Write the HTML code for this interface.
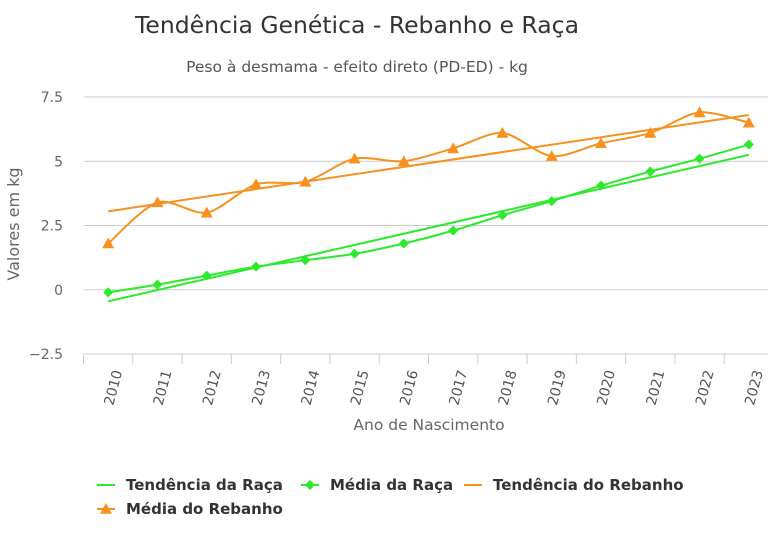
<!DOCTYPE html>
<html><head><meta charset="utf-8">
<style>
body{margin:0;background:#fff;font-family:"DejaVu Sans","Liberation Sans",sans-serif;}
svg text{font-family:"DejaVu Sans","Liberation Sans",sans-serif;}
</style></head>
<body>
<svg id="chart" width="768" height="539" viewBox="0 0 768 539" xmlns="http://www.w3.org/2000/svg">
<text x="357" y="33" text-anchor="middle" font-size="23.5" fill="#333">Tendência Genética - Rebanho e Raça</text>
<text x="357" y="72" text-anchor="middle" font-size="15.5" fill="#555">Peso à desmama - efeito direto (PD-ED) - kg</text>
<text transform="translate(19,224) rotate(-90)" text-anchor="middle" font-size="16" fill="#666">Valores em kg</text>
<text x="429" y="430" text-anchor="middle" font-size="15.5" fill="#666">Ano de Nascimento</text>
<g id="grid"></g><g id="axes"></g><g id="series"></g>
<g id="legend"></g>
</svg>
<script>
const categories=["2010","2011","2012","2013","2014","2015","2016","2017","2018","2019","2020","2021","2022","2023"];
const mediaRebanho=[1.8,3.4,3.0,4.1,4.2,5.1,5.0,5.5,6.1,5.2,5.7,6.1,6.9,6.5];
const mediaRaca=[-0.1,0.2,0.55,0.9,1.15,1.4,1.8,2.3,2.9,3.45,4.05,4.6,5.1,5.65];
const tendRaca=[-0.45,5.25];
const tendRebanho=[3.05,6.8];
const yTicks=[7.5,5,2.5,0,-2.5];
const yTickLabels=["7.5","5","2.5","0","−2.5"];

const NS="http://www.w3.org/2000/svg";
const L=83.5,R=773.5,T=97,B=354,ymin=-2.5,ymax=7.5;
const bw=(R-L)/categories.length;
const x=i=>L+bw*(i+0.5);
const y=v=>B-(v-ymin)/(ymax-ymin)*(B-T);
const GREEN="#2aea2a",ORANGE="#f7901e";
function mk(tag,attrs,parent){const e=document.createElementNS(NS,tag);for(const k in attrs)e.setAttribute(k,attrs[k]);parent.appendChild(e);return e;}
const grid=document.getElementById('grid'),axes=document.getElementById('axes'),ser=document.getElementById('series'),leg=document.getElementById('legend');
yTicks.forEach((t,i)=>{
 const ln=mk('line',{x1:L,x2:768,y1:y(t),y2:y(t),stroke:'#ccc','stroke-width':1},grid);
 
 
 const tx=mk('text',{x:63,y:y(t)+5,'text-anchor':'end','font-size':14,fill:'#666'},grid);
 tx.textContent=yTickLabels[i];
 
 
});
for(let i=0;i<=categories.length;i++){
 const tk=mk('line',{x1:L+bw*i,x2:L+bw*i,y1:B,y2:B+10,stroke:'#ccc'},axes);
 
 
}
categories.forEach((c,i)=>{
 const tx=mk('text',{transform:`translate(${x(i)+5},${B+52}) rotate(-75)`,'font-size':14,fill:'#555'},axes);
 tx.textContent=c;
 
 
});
function smooth(vals){
 const p=vals.map((v,i)=>[x(i),y(v)]);let d=`M${p[0][0]},${p[0][1]}`;
 for(let i=0;i<p.length-1;i++){
  const p0=p[i-1]||p[i],p1=p[i],p2=p[i+1],p3=p[i+2]||p2,k=1/7;
  d+=` C${p1[0]+(p2[0]-p0[0])*k},${p1[1]+(p2[1]-p0[1])*k} ${p2[0]-(p3[0]-p1[0])*k},${p2[1]-(p3[1]-p1[1])*k} ${p2[0]},${p2[1]}`;
 }return d;}
let e;
e=mk('line',{x1:x(0),y1:y(tendRaca[0]),x2:x(13),y2:y(tendRaca[1]),stroke:GREEN,'stroke-width':2},ser);


e=mk('line',{x1:x(0),y1:y(tendRebanho[0]),x2:x(13),y2:y(tendRebanho[1]),stroke:ORANGE,'stroke-width':2},ser);


e=mk('path',{d:smooth(mediaRaca),fill:'none',stroke:GREEN,'stroke-width':2},ser);


e=mk('path',{d:smooth(mediaRebanho),fill:'none',stroke:ORANGE,'stroke-width':2},ser);


const dia=(cx,cy,s)=>`M${cx},${cy-s} L${cx+s},${cy} L${cx},${cy+s} L${cx-s},${cy}Z`;
const tri=(cx,cy,s)=>`M${cx},${cy-s} L${cx+s},${cy+s*0.8} L${cx-s},${cy+s*0.8}Z`;
mediaRaca.forEach((v,i)=>{const m=mk('path',{d:dia(x(i),y(v),5),fill:GREEN},ser);
 
 });
mediaRebanho.forEach((v,i)=>{const m=mk('path',{d:tri(x(i),y(v),6),fill:ORANGE},ser);
 
 });
const items=[["Tendência da Raça",GREEN,null,97,485],["Média da Raça",GREEN,'d',301,485],["Tendência do Rebanho",ORANGE,null,464,485],["Média do Rebanho",ORANGE,'t',97,509]];
items.forEach(([t,c,m,lx,ly])=>{
 const g=mk('g',{},leg);
 
 
 mk('line',{x1:lx,x2:lx+18,y1:ly,y2:ly,stroke:c,'stroke-width':2},g);
 if(m==='d')mk('path',{d:dia(lx+9,ly,5),fill:c},g);
 if(m==='t')mk('path',{d:tri(lx+9,ly,6),fill:c},g);
 const tx=mk('text',{x:lx+29,y:ly+5,'font-size':15,'font-weight':'bold',fill:'#333'},g);tx.textContent=t;
});
</script>
</body></html>
